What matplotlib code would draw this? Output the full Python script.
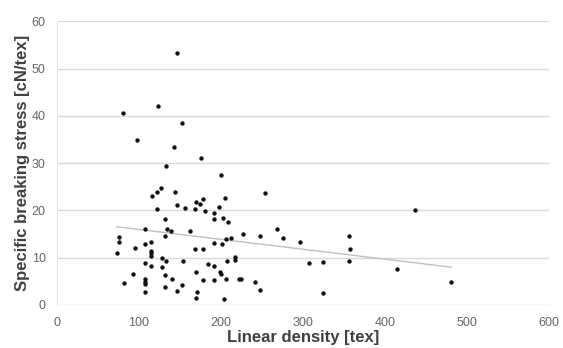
import numpy as np
import matplotlib
matplotlib.use("Agg")
import matplotlib.pyplot as plt

plt.rcParams['font.family'] = ['Liberation Sans', 'DejaVu Sans']

# linear density [tex] and specific breaking stress [cN/tex]
linear_density = [
    147, 123, 81, 152, 98, 143, 176, 133, 200, 254,
    127, 122, 116, 144, 147, 156, 122, 170, 175, 178,
    169, 181, 191, 198, 205, 192, 202, 209, 132, 108,
    134, 139, 132, 162, 227, 268, 276, 248, 212, 206,
    191, 201, 297, 76, 76, 73, 95, 107, 115, 115,
    115, 115, 128, 133, 154, 169, 178, 107, 115, 128,
    184, 191, 207, 217, 217, 93, 132, 140, 170, 199,
    200, 206, 178, 191, 222, 224, 241, 82, 108, 108,
    108, 152, 132, 147, 107, 248, 171, 170, 204, 308,
    324, 325, 356, 357, 356, 415, 437, 481,
]
breaking_stress = [
    53.3, 42.1, 40.7, 38.4, 34.9, 33.5, 31.1, 29.3, 27.4, 23.7,
    24.8, 24.0, 23.0, 23.9, 21.2, 20.6, 20.4, 21.8, 21.4, 22.5,
    20.4, 19.9, 19.5, 20.8, 22.6, 18.1, 18.5, 17.5, 18.2, 16.0,
    16.0, 15.6, 14.5, 15.7, 15.1, 16.0, 14.2, 14.5, 14.2, 13.9,
    13.1, 13.0, 13.4, 14.3, 13.4, 10.9, 12.0, 12.9, 13.3, 11.4,
    10.9, 10.4, 10.0, 9.4, 9.3, 11.9, 11.8, 8.9, 8.3, 8.0,
    8.7, 8.2, 9.4, 10.2, 9.5, 6.6, 6.3, 5.6, 7.0, 6.9,
    6.5, 5.6, 5.3, 5.3, 5.6, 5.6, 4.8, 4.7, 5.5, 4.9,
    4.4, 4.3, 3.7, 3.0, 2.7, 3.2, 2.7, 1.5, 1.3, 8.9,
    9.0, 2.6, 14.7, 11.8, 9.4, 7.6, 20.2, 4.8,
]

# trend line end points as drawn in the source
trend_x = [73, 481]
trend_y = [16.55, 8.0]

x_ticks = [0, 100, 200, 300, 400, 500, 600]
y_ticks = [0, 10, 20, 30, 40, 50, 60]

fig = plt.figure(figsize=(5.63, 3.48), dpi=100)
ax = fig.add_axes([0.101, 0.1236, 0.874, 0.815])

ax.grid(axis='y', color='#d9d9d9', linewidth=1.0)
ax.set_axisbelow(True)
ax.plot(trend_x, trend_y, color='#c0c0c0', linewidth=1.0, zorder=2)
ax.scatter(linear_density, breaking_stress, s=10, color='#111111', zorder=3, linewidths=0)

ax.set_xlim(0, 600)
ax.set_ylim(0, 60)
ax.set_xticks(x_ticks)
ax.set_yticks(y_ticks)
ax.tick_params(length=0, labelsize=9, labelcolor='#666666')
ax.tick_params(axis='x', pad=8.5)
ax.tick_params(axis='y', pad=8)
for side in ['top', 'right', 'bottom']:
    ax.spines[side].set_visible(False)
ax.spines['left'].set_color('#e6e6e6')

ax.set_xlabel('Linear density [tex]', fontsize=12, fontweight='bold', color='#404040', labelpad=1)
ax.set_ylabel('Specific breaking stress [cN/tex]', fontsize=12, fontweight='bold', color='#404040', labelpad=1)

fig.savefig('out.png', dpi=100)
